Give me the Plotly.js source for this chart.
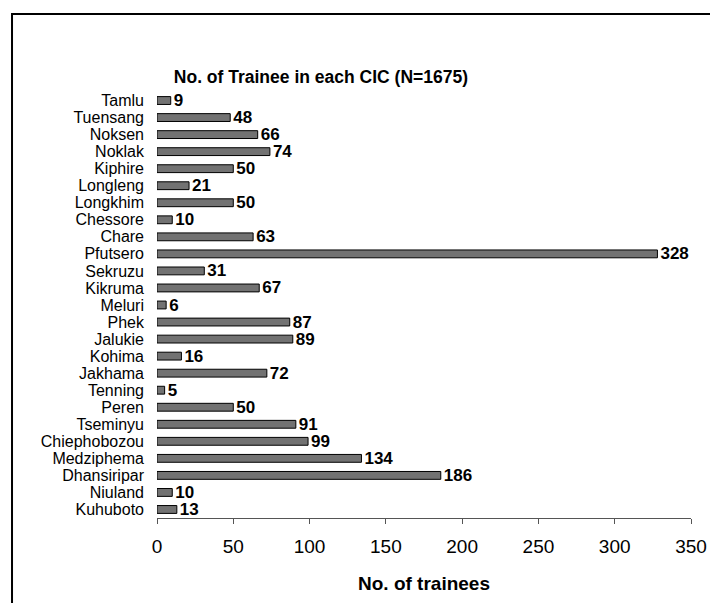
<!DOCTYPE html>
<html>
<head>
<meta charset="utf-8">
<script src="https://cdn.plot.ly/plotly-3.0.1.min.js"></script>
<style>html,body{margin:0;padding:0;background:#fff;}#chart{width:710px;height:603px;}</style>
</head>
<body>
<div id="chart"></div>
<script>
const centres = ["Tamlu","Tuensang","Noksen","Noklak","Kiphire","Longleng","Longkhim","Chessore","Chare","Pfutsero","Sekruzu","Kikruma","Meluri","Phek","Jalukie","Kohima","Jakhama","Tenning","Peren","Tseminyu","Chiephobozou","Medziphema","Dhansiripar","Niuland","Kuhuboto"];
const trainees = [9,48,66,74,50,21,50,10,63,328,31,67,6,87,89,16,72,5,50,91,99,134,186,10,13];
const xTicks = [0,50,100,150,200,250,300,350];

const font = "Liberation Sans, Arial, sans-serif";
const trace = {
  type: "bar",
  orientation: "h",
  y: centres,
  x: trainees,
  width: 0.46,
  marker: {color: "#727272", line: {color: "#000", width: 1}},
  text: trainees.map(String),
  textposition: "outside",
  constraintext: "none",
  cliponaxis: false,
  textfont: {family: font, size: 17, color: "#000", weight: "bold"},
  hoverinfo: "x+y"
};
const layout = {
  width: 710, height: 603,
  margin: {l: 157, r: 19, t: 92, b: 85},
  paper_bgcolor: "#fff", plot_bgcolor: "#fff",
  showlegend: false,
  title: {text: "<b>No. of Trainee in each CIC (N=1675)</b>", font: {family: font, size: 17.5, color: "#000"},
          x: 0.452, xref: "container", xanchor: "center", y: 0.872, yref: "container", yanchor: "middle"},
  xaxis: {range: [0, 350], tickvals: xTicks, ticktext: xTicks.map(String), showgrid: false, zeroline: false,
          showline: true, linecolor: "#555", linewidth: 1, ticks: "outside", ticklen: 5, tickcolor: "#555",
          ticklabelstandoff: 6,
          tickfont: {family: font, size: 19, color: "#000"},
          title: {text: "<b>No. of trainees</b>", font: {family: font, size: 19, color: "#000"}, standoff: 20}},
  yaxis: {type: "category", categoryorder: "array", categoryarray: centres, autorange: "reversed",
          tickmode: "array", tickvals: centres, ticktext: centres,
          showgrid: false, zeroline: false, showline: false, ticks: "",
          ticklabelstandoff: 12, tickfont: {family: font, size: 16, color: "#000"}},
  shapes: [{type: "rect", xref: "paper", yref: "paper", x0: -0.2715, x1: 1.06, y0: -0.25, y1: 1.183,
            line: {color: "#000", width: 2}, fillcolor: "rgba(0,0,0,0)"}]
};
Plotly.newPlot("chart", [trace], layout, {displayModeBar: false, staticPlot: true});
</script>
</body>
</html>
